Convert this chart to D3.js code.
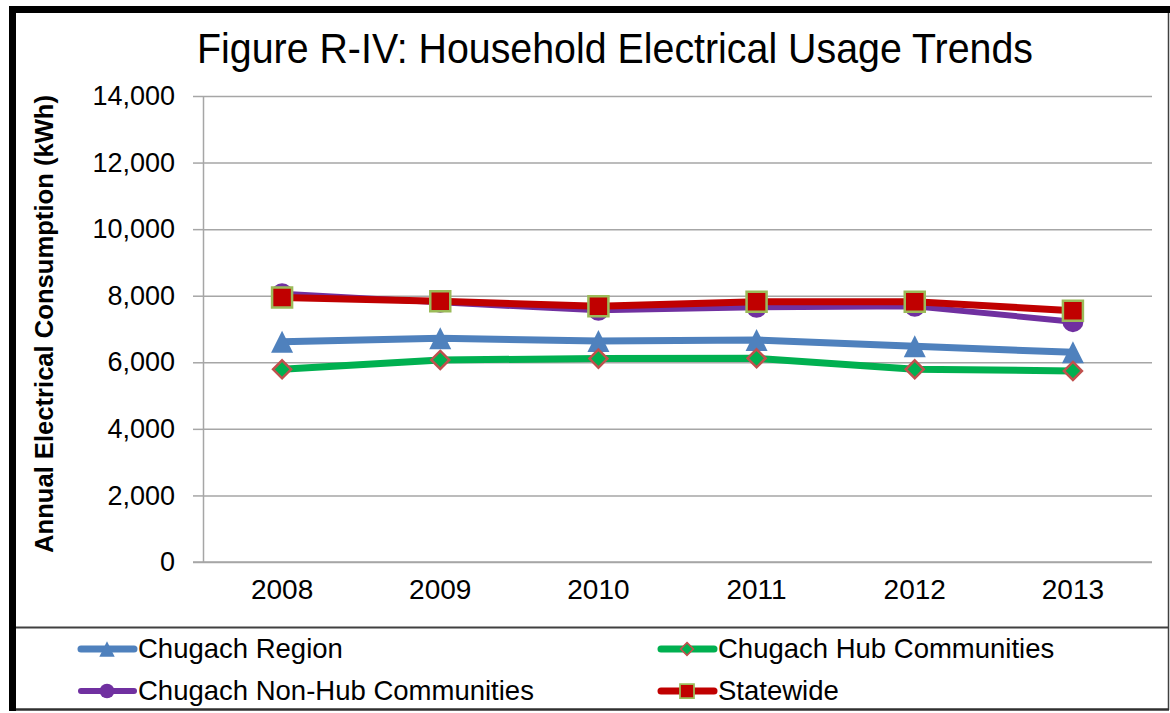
<!DOCTYPE html>
<html>
<head>
<meta charset="utf-8">
<script src="https://cdn.jsdelivr.net/npm/d3@7/dist/d3.min.js"></script>
<style>
  body { margin: 0; background: #fff; }
  .grid line { stroke: #a6a6a6; stroke-width: 1.5; }
  .grid path { display: none; }
  .axis_y path, .axis_y line { stroke: #a6a6a6; stroke-width: 1.5; }
  .axis_y text { font-family: "Liberation Sans", Arial, sans-serif; font-size: 27px; fill: #000; }
  .axis_x path { stroke: #a6a6a6; stroke-width: 1.5; }
  .axis_x line { display: none; }
  .axis_x text { font-family: "Liberation Sans", Arial, sans-serif; font-size: 28px; fill: #000; }
  .legend text { font-family: "Liberation Sans", Arial, sans-serif; font-size: 27.5px; fill: #000; }
</style>
</head>
<body>
<div id="chart"></div>
<script>
// data
var years = ["2008", "2009", "2010", "2011", "2012", "2013"];
var chugachRegion = [6620, 6720, 6640, 6670, 6480, 6300];
var hubCommunities = [5790, 6070, 6110, 6120, 5790, 5740];
var nonHubCommunities = [8060, 7800, 7560, 7650, 7680, 7220];
var statewide = [7950, 7830, 7680, 7820, 7820, 7550];
var yTicks = [0, 2000, 4000, 6000, 8000, 10000, 12000, 14000];

var seriesNames = ["Chugach Region", "Chugach Hub Communities", "Chugach Non-Hub Communities", "Statewide"];

var W = 1170, H = 713;
var plot = {left: 203, right: 1152, top: 96, bottom: 562};

var svg = d3.select("#chart").append("svg")
    .attr("width", W)
    .attr("height", H);

var series = [
  {name: seriesNames[0], values: chugachRegion, color: "#4f81bd", width: 7, marker: "triangle"},
  {name: seriesNames[1], values: hubCommunities, color: "#00b050", width: 7, marker: "diamond"},
  {name: seriesNames[2], values: nonHubCommunities, color: "#7030a0", width: 6, marker: "circle"},
  {name: seriesNames[3], values: statewide, color: "#c00000", width: 7, marker: "square"}
];

var xScale = d3.scaleBand().domain(years).range([plot.left, plot.right]);
var xCenter = function (yr) { return xScale(yr) + xScale.bandwidth() / 2; };
var yScale = d3.scaleLinear().domain([0, 14000]).range([plot.bottom, plot.top]);

// gridlines
svg.append("g")
    .attr("class", "grid")
    .attr("transform", "translate(" + plot.left + ",0)")
    .call(d3.axisLeft(yScale).tickValues(yTicks).tickSize(-(plot.right - plot.left)).tickFormat(""));

// y axis
svg.append("g")
    .attr("class", "axis_y")
    .attr("transform", "translate(" + plot.left + ",0)")
    .call(d3.axisLeft(yScale).tickValues(yTicks).tickSizeInner(10).tickSizeOuter(0).tickPadding(18).tickFormat(d3.format(",")));

// x axis
svg.append("g")
    .attr("class", "axis_x")
    .attr("transform", "translate(0," + plot.bottom + ")")
    .call(d3.axisBottom(xScale).tickSizeOuter(0).tickSizeInner(0).tickPadding(17));
svg.select(".axis_x path").attr("d", "M" + (plot.left - 10) + ",0H" + plot.right);

// marker shapes, s = size in px
function markerPath(type, s) {
  var h = s / 2;
  if (type === "triangle") return "M0," + (-h) + "L" + h + "," + h + "L" + (-h) + "," + h + "Z";
  if (type === "diamond") return "M0," + (-h) + "L" + h + ",0L0," + h + "L" + (-h) + ",0Z";
  if (type === "square") return "M" + (-h) + "," + (-h) + "H" + h + "V" + h + "H" + (-h) + "Z";
  return d3.symbol().type(d3.symbolCircle).size(Math.PI * h * h)();
}
var markerStyle = {
  triangle: {fill: "#4f81bd", stroke: "none", sw: 0, size: 22},
  diamond: {fill: "#00b050", stroke: "#c0504d", sw: 2.5, size: 18},
  circle: {fill: "#7030a0", stroke: "none", sw: 0, size: 21},
  square: {fill: "#c00000", stroke: "#9bbb59", sw: 2.5, size: 20}
};

var line = d3.line()
    .x(function (d, i) { return xCenter(years[i]); })
    .y(function (d) { return yScale(d); });

series.forEach(function (s) {
  var g = svg.append("g").attr("class", "series");
  g.append("path")
      .attr("d", line(s.values))
      .attr("fill", "none")
      .attr("stroke", s.color)
      .attr("stroke-width", s.width)
      .attr("stroke-linejoin", "round");
  var st = markerStyle[s.marker];
  g.selectAll("path.mark")
      .data(s.values)
      .enter().append("path")
      .attr("class", "mark")
      .attr("transform", function (d, i) { return "translate(" + xCenter(years[i]) + "," + yScale(d) + ")"; })
      .attr("d", markerPath(s.marker, st.size))
      .attr("fill", st.fill)
      .attr("stroke", st.stroke)
      .attr("stroke-width", st.sw);
});

// title
svg.append("text")
    .attr("x", 615)
    .attr("y", 63)
    .attr("text-anchor", "middle")
    .attr("textLength", 836)
    .attr("lengthAdjust", "spacingAndGlyphs")
    .style("font-family", "'Liberation Sans Narrow', 'Liberation Sans', Arial, sans-serif")
    .style("font-size", "42px")
    .text("Figure R-IV: Household Electrical Usage Trends");

// y axis title
svg.append("text")
    .attr("transform", "translate(53," + ((plot.top + plot.bottom) / 2 - 5) + ") rotate(-90)")
    .attr("text-anchor", "middle")
    .attr("textLength", 458)
    .attr("lengthAdjust", "spacingAndGlyphs")
    .style("font-family", "'Liberation Sans Narrow', 'Liberation Sans', Arial, sans-serif")
    .style("font-weight", "bold")
    .style("font-size", "25px")
    .text("Annual Electrical Consumption (kWh)");

// legend
var legendPos = [[78, 649], [658, 649], [78, 691], [658, 691]];
var legend = svg.selectAll(".legend")
    .data(series)
    .enter().append("g")
    .attr("class", "legend")
    .attr("transform", function (d, i) { return "translate(" + legendPos[i][0] + "," + legendPos[i][1] + ")"; });
legend.append("line")
    .attr("x1", 3).attr("x2", 56)
    .attr("stroke", function (d) { return d.color; })
    .attr("stroke-width", function (d) { return d.width; })
    .attr("stroke-linecap", "round");
legend.append("path")
    .attr("transform", "translate(29,0)")
    .attr("d", function (d) { return markerPath(d.marker, markerStyle[d.marker].size * 0.7); })
    .attr("fill", function (d) { return markerStyle[d.marker].fill; })
    .attr("stroke", function (d) { return markerStyle[d.marker].stroke; })
    .attr("stroke-width", function (d) { return markerStyle[d.marker].sw * 0.7; });
legend.append("text")
    .attr("x", 60)
    .attr("y", 9)
    .text(function (d) { return d.name; });

// frame
svg.append("line").attr("x1", 16).attr("x2", 1169).attr("y1", 627.5).attr("y2", 627.5)
    .attr("stroke", "#404040").attr("stroke-width", 2);
svg.append("line").attr("x1", 1168.5).attr("x2", 1168.5).attr("y1", 13).attr("y2", 710)
    .attr("stroke", "#404040").attr("stroke-width", 1.5);
svg.append("line").attr("x1", 16).attr("x2", 1169).attr("y1", 709.5).attr("y2", 709.5)
    .attr("stroke", "#303030").attr("stroke-width", 2.5);
svg.append("rect").attr("x", 9).attr("y", 6).attr("width", 1161).attr("height", 7).attr("fill", "#000");
svg.append("rect").attr("x", 9).attr("y", 6).attr("width", 7).attr("height", 705).attr("fill", "#000");
</script>
</body>
</html>
